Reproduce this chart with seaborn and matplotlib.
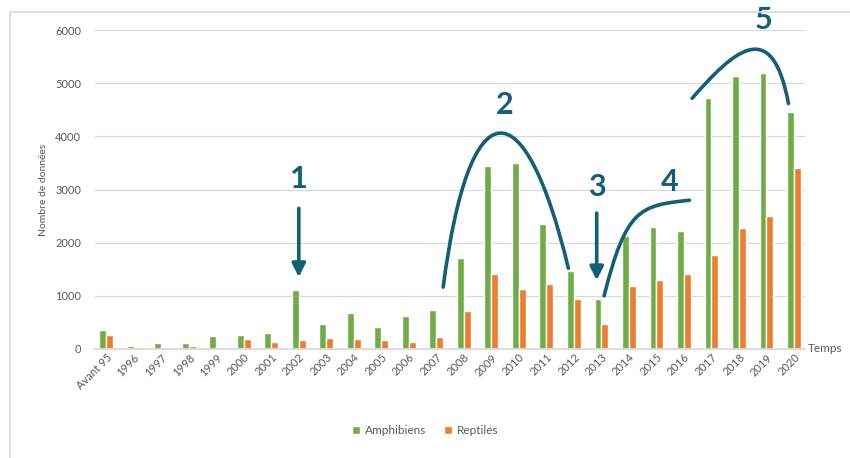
import pandas as pd
import matplotlib.pyplot as plt
import seaborn as sns
from matplotlib.path import Path
from matplotlib.patches import PathPatch, Rectangle

# Values
annees = ['Avant 95', '1996', '1997', '1998', '1999', '2000', '2001', '2002', '2003',
          '2004', '2005', '2006', '2007', '2008', '2009', '2010', '2011', '2012',
          '2013', '2014', '2015', '2016', '2017', '2018', '2019', '2020']
amphibiens = [360, 50, 120, 110, 245, 255, 310, 1110, 470, 680, 405, 620, 730, 1720,
              3440, 3510, 2350, 1465, 950, 2130, 2300, 2230, 4725, 5140, 5200, 4455]
reptiles = [260, 40, 30, 50, 40, 195, 140, 170, 200, 180, 170, 125, 225, 715,
            1420, 1125, 1215, 945, 470, 1190, 1300, 1410, 1770, 2280, 2500, 3400]

df = pd.DataFrame({'Année': annees * 2,
                   'Nombre': amphibiens + reptiles,
                   'Groupe': ['Amphibiens'] * len(annees) + ['Reptiles'] * len(annees)})

sns.set_theme(style='white')
plt.rcParams['font.family'] = ['Lato', 'DejaVu Sans']

grey = '#595959'
teal = '#135f74'

fig = plt.figure(figsize=(8.5, 4.58), dpi=100)
ax = fig.add_axes([0.112, 0.238, 0.835, 0.696])

sns.barplot(data=df, x='Année', y='Nombre', hue='Groupe',
            palette={'Amphibiens': '#70ad47', 'Reptiles': '#ed7d31'},
            width=0.5, ax=ax, saturation=1, legend=True)

ax.set_ylim(0, 6000)
ax.set_xlim(-0.4, 25.4)
ax.set_yticks(range(0, 6001, 1000))
ax.yaxis.grid(True, color='#d9d9d9', linewidth=0.8)
ax.set_axisbelow(True)
for s in ['top', 'right', 'left']:
    ax.spines[s].set_visible(False)
ax.spines['bottom'].set_color('#d9d9d9')
ax.tick_params(axis='y', labelsize=8, colors=grey, length=0, pad=10)
ax.tick_params(axis='x', labelsize=8, colors=grey, length=0, pad=2)
plt.setp(ax.get_xticklabels(), rotation=45, ha='right', rotation_mode='anchor')
ax.set_xlabel('')
ax.set_ylabel('Nombre de données', fontsize=7.5, color=grey, labelpad=5)
ax.text(1.004, 0, 'Temps', transform=ax.transAxes, fontsize=8.5, color=grey,
        va='center', ha='left')

# legend at the bottom
handles, labels = ax.get_legend_handles_labels()
ax.legend(handles, labels, loc='center', bbox_to_anchor=(0.5, 0.06),
          bbox_transform=fig.transFigure, ncol=2, frameon=False, fontsize=8.5,
          labelcolor=grey, handlelength=0.7, handleheight=0.7,
          handletextpad=0.4, columnspacing=1.5)

# hand-drawn style annotations
kw = dict(color=teal, fontsize=22, fontweight='bold', ha='center', va='center',
          clip_on=False)
ax.text(7, 3200, '1', **kw)
ax.text(14.5, 4590, '2', **kw)
ax.text(17.83, 3050, '3', **kw)
ax.text(20.47, 3150, '4', **kw)
ax.text(23.9, 6200, '5', **kw)

arrow = dict(arrowstyle='-|>', color=teal, lw=2.6, mutation_scale=20)
ax.annotate('', xy=(7, 1300), xytext=(7, 2700), arrowprops=arrow)
ax.annotate('', xy=(17.83, 1240), xytext=(17.83, 2610), arrowprops=arrow)

curves = [
    [(12.25, 1165), (13.2, 4970), (15.2, 4970), (16.8, 1520)],
    [(18.1, 1000), (18.9, 2650), (19.4, 2700), (21.2, 2800)],
    [(21.3, 4720), (22.8, 5600), (24.2, 6300), (24.8, 4620)],
]
for pts in curves:
    path = Path(pts, [Path.MOVETO, Path.CURVE4, Path.CURVE4, Path.CURVE4])
    ax.add_patch(PathPatch(path, fill=False, edgecolor=teal, lw=2.6,
                           capstyle='round', clip_on=False))

# light frame around the figure
fig.patches.append(Rectangle((0.012, -0.02), 1.0, 0.994, transform=fig.transFigure,
                             fill=False, edgecolor='#d9d9d9', lw=1.2))

fig.savefig('out.png', dpi=100)
